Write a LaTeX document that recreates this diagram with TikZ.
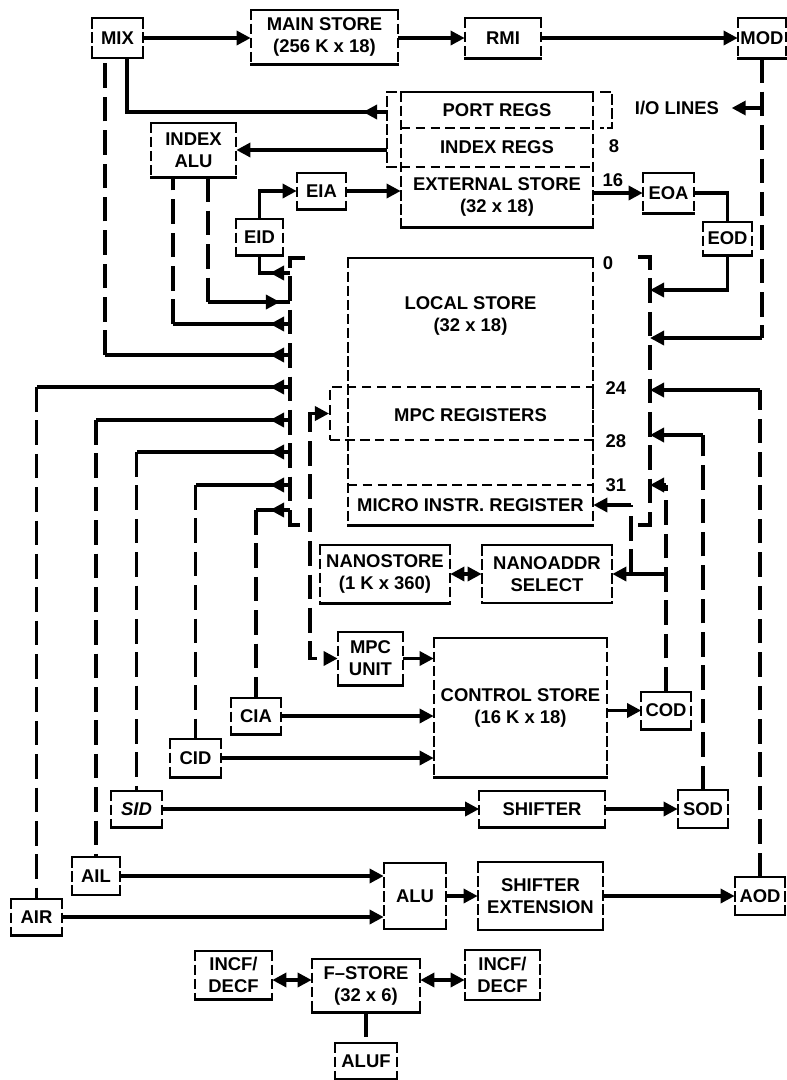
\documentclass[tikz,border=0pt]{standalone}
\usepackage{fontspec}
\setmainfont{Liberation Sans}
\usetikzlibrary{arrows.meta, calc, decorations.markings}

\tikzset{
  >={Triangle[length=8pt, width=8pt]},
  txt/.style={font=\fontsize{10.5}{12.5}\selectfont\bfseries, align=center, inner sep=0pt},
  hside/.style={line width=1.3pt, line cap=rect},
  vside/.style={line width=1.3pt, dash pattern=on 6pt off 2pt},
  blk/.style 2 args={txt, rectangle, minimum width=#1*0.02cm, minimum height=#2*0.02cm,
    append after command={
      (\tikzlastnode.north west) edge[hside] (\tikzlastnode.north east)
      (\tikzlastnode.south west) edge[hside] (\tikzlastnode.south east)
      (\tikzlastnode.north west) edge[vside] (\tikzlastnode.south west)
      (\tikzlastnode.north east) edge[vside] (\tikzlastnode.south east)}},
  sect/.style 2 args={rectangle, draw, line width=1.1pt, dash pattern=on 5.5pt off 3pt,
    minimum width=#1*0.02cm, minimum height=#2*0.02cm},
  sepline/.style={line width=1.1pt, dash pattern=on 5.5pt off 3pt},
  wire/.style={line width=1.9pt},
  bus/.style={line width=1.9pt, dash pattern=on 14pt off 5pt},
  outhead/.style={postaction={decorate, decoration={markings, mark=at position #1 with {\arrow{>}}}}},
  lbl/.style={font=\fontsize{10.5}{12.5}\selectfont\bfseries, inner sep=0pt},
}

\begin{document}
\begin{tikzpicture}[x=0.02cm, y=-0.02cm]
    \useasboundingbox (0,0) rectangle (787,1080);

    % Top row
    \node[blk={51}{39}] (mix) at (117.5,38) {MIX};
    \node[blk={147}{54}] (ms) at (324.5,37) {MAIN STORE\\(256 K x 18)};
    \node[blk={76}{40}] (rmi) at (503,38) {RMI};
    \node[blk={48}{40}] (mod) at (762,38) {MOD};

    % Port, index and external store column
    \node[blk={192}{135}] (stk) at (497,159.5) {};
    \node[txt, minimum width=192*0.02cm, minimum height=36*0.02cm] (pr) at (497,110) {PORT REGS};
    \node[txt, minimum width=192*0.02cm, minimum height=39*0.02cm] (ir) at (497,147.5) {INDEX REGS};
    \node[txt, minimum width=192*0.02cm, minimum height=60*0.02cm] (es) at (497,197) {EXTERNAL STORE\\(32 x 18)};
    \draw[sepline] (pr.south west) -- (pr.south east);
    \draw[sepline] (ir.south west) -- (ir.south east);
    \draw[vside] (397,92) -- (387,92) -- (387,167) -- (401,167);
    \draw[vside] (600,92) -- (612,92) -- (612,128) -- (600,128);
    \node[lbl] (l8) at (614,146) {8};
    \node[lbl] (l16) at (613,180) {16};
    \node[txt, inner sep=7pt] (io) at (677,108) {I/O LINES};

    \node[blk={85}{54}] (ialu) at (193.5,150) {INDEX\\ALU};
    \node[blk={49}{36}] (eia) at (321.5,191) {EIA};
    \node[blk={47}{36}] (eid) at (259.5,237) {EID};
    \node[blk={51}{40}] (eoa) at (668.5,193) {EOA};
    \node[blk={49}{33}] (eod) at (727.5,238.5) {EOD};

    % Local store column
    \node[blk={245}{267}] (ls) at (470.5,391.5) {};
    \node[txt] (lst) at (470.5,316) {LOCAL STORE\\(32 x 18)};
    \node[sect={263}{53}] (mpcr) at (461.5,413.5) {};
    \node[txt] (mpct) at (470.5,415) {MPC REGISTERS};
    \node[txt, minimum width=245*0.02cm, minimum height=40*0.02cm] (mir) at (470.5,505) {MICRO INSTR. REGISTER};
    \draw[sepline] (mir.north west) -- (mir.north east);
    \node[lbl] (l0) at (608,263) {0};
    \node[lbl] (l24) at (616,388) {24};
    \node[lbl] (l28) at (616,441) {28};
    \node[lbl] (l31) at (616,485) {31};

    % Nano and control
    \node[blk={130}{58}] (nano) at (385,574) {NANOSTORE\\(1 K x 360)};
    \node[blk={130}{57}] (nsel) at (547,574) {NANOADDR\\SELECT};
    \node[blk={65}{53}] (mpcu) at (370.5,658.5) {MPC\\UNIT};
    \node[blk={173}{139}] (cs) at (520.5,707.5) {CONTROL STORE\\(16 K x 18)};
    \node[blk={50}{36}] (cia) at (256,716) {CIA};
    \node[blk={51}{38}] (cid) at (195.5,758) {CID};
    \node[blk={49}{37}] (cod) at (666,710.5) {COD};

    % Shifter and ALU
    \node[blk={51}{36}] (sid) at (136.5,809) {\itshape SID};
    \node[blk={125}{36}] (shf) at (542,809) {SHIFTER};
    \node[blk={50}{37}] (sod) at (703,809) {SOD};
    \node[blk={48}{37}] (ail) at (96,876) {AIL};
    \node[blk={51}{36}] (air) at (36.5,917) {AIR};
    \node[blk={62}{65}] (alu) at (415,896) {ALU};
    \node[blk={125}{67}] (she) at (540.5,896) {SHIFTER\\EXTENSION};
    \node[blk={50}{37}] (aod) at (760,896) {AOD};

    % F-store
    \node[blk={77}{48}] (incl) at (233.5,975) {INCF/\\DECF};
    \node[blk={108}{53}] (fst) at (366,985.5) {F--STORE\\(32 x 6)};
    \node[blk={75}{49}] (incr) at (502.5,975) {INCF/\\DECF};
    \node[blk={62}{36}] (aluf) at (366,1061) {ALUF};

    % Buses
    \coordinate (lbus) at (290,0);
    \coordinate (rbus) at (650,0);
    \draw[bus] (305,258) -- (290,258) -- (290,525) -- (305,525);
    \draw[bus] (638,257) -- (650,257) -- (650,525) -- (637,525);

    % Top row arrows
    \draw[wire, ->] (mix.east) -- (mix.east -| ms.west);
    \draw[wire, ->] (ms.east |- rmi.west) -- (rmi.west);
    \draw[wire, ->] (rmi.east) -- (mod.west);

    % External store paths
    \coordinate (brk) at (387,0);
    \coordinate (mixr) at ($(mix.south)+(9.5,0)$);
    \coordinate (mixl) at ($(mix.south)+(-12.5,0)$);
    \coordinate (ialul) at ($(ialu.south)+(-20.5,0)$);
    \coordinate (ialur) at ($(ialu.south)+(14.5,0)$);
    \draw[wire, outhead=0.48cm] (brk |- 0,112) -| (mixr);
    \draw[wire, ->] (brk |- ialu.east) -- (ialu.east);
    \draw[wire, ->] (eid.north) |- (eia.west);
    \draw[wire, ->] (eia.east) -- (eia.east -| es.west);
    \draw[wire, ->] (es.east |- eoa.west) -- (eoa.west);
    \draw[wire] (eoa.east) -| (eod.north);

    % Left bus taps
    \draw[wire, outhead=0.4cm] (lbus |- 0,273) -| (eid.south);
    \draw[bus] (ialur) -- (ialur |- 0,302);
    \draw[wire, outhead=1.44cm] (ialur |- 0,302) -- (lbus |- 0,302);
    \draw[wire, outhead=0.4cm] (lbus |- 0,324) -- (ialul |- 0,324);
    \draw[bus] (ialul |- 0,324) -- (ialul);
    \draw[wire, outhead=0.4cm] (lbus |- 0,355) -- (mixl |- 0,355);
    \draw[bus] (mixl |- 0,355) -- (mixl);
    \foreach \y/\nd in {387/air, 420/ail, 452/sid, 485/cid, 510/cia} {
        \draw[wire, outhead=0.4cm] (lbus |- 0,\y) -- (\nd.north |- 0,\y);
        \draw[bus] (\nd.north |- 0,\y) -- (\nd.north);
    }

    % Right bus taps
    \draw[wire, ->] (eod.south) |- (rbus |- 0,290);
    \foreach \y/\nd in {338/mod.south, 390/aod.north, 435/sod.north, 485/cod.north} {
        \draw[bus] (\nd) -- (\nd |- 0,\y);
        \draw[wire, ->] (\nd |- 0,\y) -- (rbus |- 0,\y);
    }
    \draw[wire, ->] (mod.south |- io) -- (io.east);

    % COD feedback
    \coordinate (mirx) at (631,0);
    \draw[wire, ->] (cod.north |- nsel.east) -- (nsel.east);
    \draw[bus] (mirx |- nsel.east) -- (mirx |- mir.east);
    \draw[wire, ->] (mirx |- mir.east) -- (mir.east);

    % MPC link
    \coordinate (mpx) at (310,0);
    \draw[bus, <->] (mpcr.west) -- (mpx |- mpcr.west) -- (mpx |- mpcu.west) -- (mpcu.west);

    % Control store arrows
    \draw[wire, <->] (nano.east) -- (nsel.west);
    \draw[wire, ->] (mpcu.east) -- (mpcu.east -| cs.west);
    \draw[wire, ->] (cia.east) -- (cia.east -| cs.west);
    \draw[wire, ->] (cid.east) -- (cid.east -| cs.west);
    \draw[wire, ->] (cs.east |- cod.west) -- (cod.west);

    % Shifter and ALU arrows
    \draw[wire, ->] (sid.east) -- (shf.west);
    \draw[wire, ->] (shf.east) -- (sod.west);
    \draw[wire, ->] (ail.east) -- (ail.east -| alu.west);
    \draw[wire, ->] (air.east) -- (air.east -| alu.west);
    \draw[wire, ->] (alu.east) -- (she.west);
    \draw[wire, ->] (she.east) -- (aod.west);

    % F-store arrows
    \coordinate (fy) at (0,980);
    \draw[wire, <->] (incl.east |- fy) -- (fst.west |- fy);
    \draw[wire, <->] (fst.east |- fy) -- (incr.west |- fy);
    \draw[bus] (fst.south) -- (aluf.north);
\end{tikzpicture}
\end{document}
